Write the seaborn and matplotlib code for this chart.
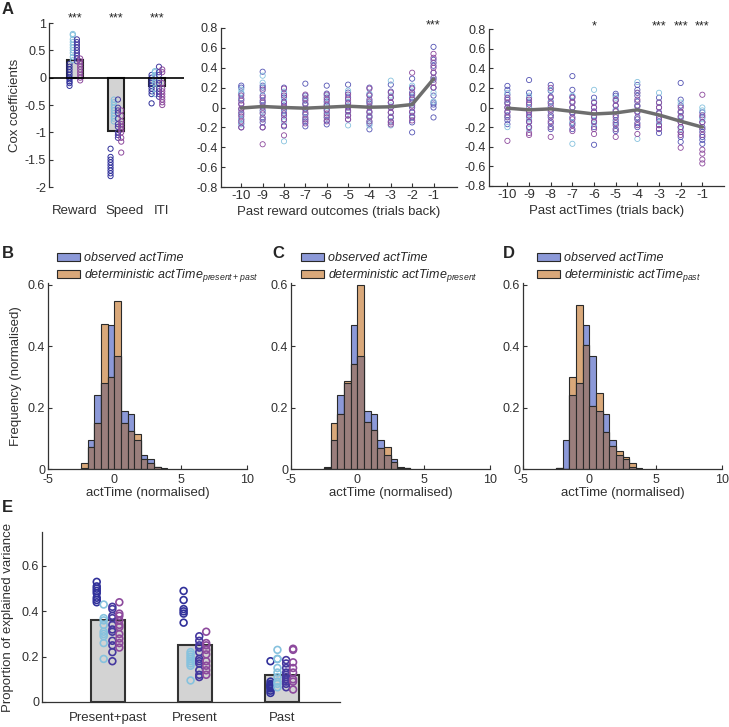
import numpy as np
import matplotlib
matplotlib.use('Agg')
import matplotlib.pyplot as plt
import seaborn as sns
from matplotlib.patches import Patch
from matplotlib.ticker import FuncFormatter

# ==============================
# data
# ==============================
# --- A (left): Cox coefficients ---
a1_labels = ['Reward', 'Speed', 'ITI']
a1_means = [0.32, -0.97, -0.15]
a1_navy = [[0.25, 0.2, 0.15, 0.1, 0.05, 0.0, -0.03, -0.07, -0.1, -0.15],
           [-1.3, -1.45, -1.5, -1.55, -1.6, -1.65, -1.7, -1.75, -1.8],
           [0.05, 0.0, -0.05, -0.1, -0.15, -0.2, -0.25, -0.3, -0.47]]
a1_light = [[0.8, 0.78, 0.7, 0.65, 0.6, 0.55, 0.5, 0.45, 0.38, 0.32],
            [-0.4, -0.45, -0.5, -0.55, -0.6, -0.65, -0.7, -0.75, -0.8],
            [0.12, 0.1, 0.05, 0.0, -0.05, -0.1, -0.2, -0.3]]
a1_indigo = [[0.7, 0.65, 0.6, 0.55, 0.5, 0.45, 0.4, 0.35, 0.3],
             [-0.4, -0.55, -0.6, -0.65, -0.75, -0.85, -0.9, -1.0, -1.05, -1.1],
             [0.2, 0.1, 0.05, -0.05, -0.1, -0.2, -0.25, -0.3, -0.35]]
a1_purple = [[0.35, 0.3, 0.25, 0.2, 0.15, 0.1, 0.05, 0.0, -0.05],
             [-0.6, -0.7, -0.8, -0.85, -0.9, -0.95, -1.0, -1.1, -1.17, -1.37],
             [0.15, 0.1, -0.1, -0.2, -0.25, -0.3, -0.35, -0.4, -0.45, -0.5]]
a1_stars = ['***', '***', '***']
a1_label_pos = [0.0, 1.2, 2.12]   # where the category names sit

# --- A (middle/right): lagged coefficients ---
lags = [-10, -9, -8, -7, -6, -5, -4, -3, -2, -1]
a2_mean = [-0.005, 0.01, 0.0, -0.007, 0.003, 0.013, 0.003, 0.007, 0.03, 0.287]
a2_blue = [[0.22, 0.2, 0.14, 0.09, 0.04, -0.02, -0.07, -0.12, -0.16, -0.2],
           [0.36, 0.22, 0.2, 0.12, 0.07, 0.02, -0.03, -0.1, -0.15, -0.2],
           [0.2, 0.14, 0.1, 0.06, 0.02, -0.03, -0.08, -0.12, -0.19],
           [0.24, 0.12, 0.07, 0.03, -0.01, -0.05, -0.1, -0.14, -0.19],
           [0.22, 0.14, 0.1, 0.06, 0.02, -0.03, -0.08, -0.13, -0.17],
           [0.23, 0.15, 0.1, 0.05, 0.01, -0.03, -0.08, -0.12],
           [0.2, 0.13, 0.08, 0.04, 0.0, -0.05, -0.1, -0.16, -0.22],
           [0.23, 0.16, 0.1, 0.05, 0.0, -0.05, -0.1, -0.14],
           [0.29, 0.2, 0.15, 0.1, 0.05, 0.0, -0.05, -0.1, -0.15, -0.25],
           [0.61, 0.48, 0.42, 0.35, 0.28, 0.2, 0.12, 0.05, 0.03, 0.0, -0.1]]
a2_light = [[0.18, 0.15, 0.08, -0.06, -0.12, -0.17],
            [0.32, 0.25, 0.17, 0.05, -0.05, -0.12],
            [0.16, 0.08, -0.05, -0.14, -0.34],
            [0.1, 0.04, -0.06, -0.12],
            [0.12, 0.05, -0.04, -0.1],
            [0.17, 0.06, -0.05, -0.18],
            [0.14, 0.05, -0.08, -0.14, -0.18],
            [0.27, 0.12, 0.02, -0.09, -0.18],
            [0.22, 0.12, 0.03, -0.08],
            [0.45, 0.3, 0.15, 0.06]]
a2_purple = [[0.12, 0.07, 0.03, -0.01, -0.05, -0.09, -0.14, -0.2],
             [0.18, 0.1, 0.05, 0.0, -0.06, -0.12, -0.2, -0.37],
             [0.19, 0.12, 0.05, 0.0, -0.06, -0.12, -0.18, -0.28],
             [0.13, 0.09, 0.04, -0.02, -0.07, -0.12, -0.16],
             [0.13, 0.08, 0.03, -0.02, -0.06, -0.1, -0.14],
             [0.13, 0.08, 0.04, 0.0, -0.04, -0.08, -0.12],
             [0.19, 0.12, 0.06, 0.01, -0.04, -0.09, -0.14],
             [0.15, 0.1, 0.05, 0.0, -0.05, -0.1, -0.15, -0.17],
             [0.35, 0.19, 0.13, 0.08, 0.02, -0.04, -0.09, -0.13],
             [0.54, 0.5, 0.45, 0.4, 0.35, 0.3, 0.25, 0.2]]
a2_stars = {-1: '***'}

a3_mean = [-0.007, -0.024, -0.014, -0.04, -0.066, -0.055, -0.024, -0.076, -0.14, -0.2]
a3_blue = [[0.22, 0.18, 0.13, 0.08, 0.04, 0.0, -0.04, -0.08, -0.13, -0.17],
           [0.28, 0.15, 0.1, 0.05, 0.0, -0.05, -0.1, -0.15, -0.2],
           [0.23, 0.17, 0.11, 0.06, 0.01, -0.04, -0.1, -0.16, -0.22],
           [0.32, 0.18, 0.11, 0.06, 0.0, -0.05, -0.1, -0.16, -0.22],
           [0.1, 0.05, 0.0, -0.04, -0.09, -0.14, -0.2, -0.38],
           [0.14, 0.12, 0.07, 0.02, -0.03, -0.08, -0.13, -0.18, -0.24],
           [0.23, 0.18, 0.12, 0.06, 0.01, -0.04, -0.1, -0.16, -0.2],
           [0.1, 0.05, 0.0, -0.05, -0.1, -0.14, -0.18, -0.22, -0.26],
           [0.25, 0.08, 0.02, -0.04, -0.09, -0.15, -0.2, -0.25, -0.3, -0.35],
           [-0.05, -0.1, -0.15, -0.2, -0.25, -0.3, -0.33, -0.37]]
a3_light = [[0.15, 0.05, -0.1, -0.2],
            [0.12, 0.0, -0.12, -0.22],
            [0.18, 0.05, -0.08, -0.2],
            [0.12, 0.0, -0.15, -0.37],
            [0.18, 0.06, -0.08, -0.17],
            [0.1, -0.02, -0.15, -0.22],
            [0.26, 0.15, 0.02, -0.12, -0.32],
            [0.15, 0.05, -0.06, -0.15],
            [0.05, -0.05, -0.12, -0.22],
            [0.0, -0.03, -0.12, -0.22]]
a3_purple = [[0.1, 0.05, 0.0, -0.05, -0.1, -0.34],
             [0.08, 0.03, -0.03, -0.08, -0.14, -0.2, -0.26, -0.28],
             [0.2, 0.1, 0.04, -0.02, -0.08, -0.14, -0.2, -0.3],
             [0.1, 0.05, 0.0, -0.06, -0.12, -0.18, -0.24],
             [0.05, 0.0, -0.05, -0.1, -0.15, -0.22, -0.27],
             [0.08, 0.02, -0.04, -0.1, -0.16, -0.22, -0.3],
             [0.15, 0.08, 0.02, -0.05, -0.12, -0.18, -0.27],
             [0.05, 0.0, -0.06, -0.12, -0.18, -0.22],
             [0.0, -0.05, -0.1, -0.15, -0.2, -0.25, -0.28, -0.41],
             [0.13, -0.08, -0.15, -0.22, -0.28, -0.43, -0.47, -0.53, -0.57]]
a3_stars = {-6: '*', -3: '***', -2: '***', -1: '***'}

# --- B/C/D: histograms (bin heights, bin width 0.5 from -2.5) ---
bin_edges = [-2.5, -2.0, -1.5, -1.0, -0.5, 0.0, 0.5, 1.0, 1.5, 2.0, 2.5, 3.0, 3.5, 4.0]
observed = [0.003, 0.095, 0.24, 0.28, 0.468, 0.366, 0.19, 0.18, 0.095, 0.045, 0.033, 0.005, 0.002]
det_present_past = [0.018, 0.07, 0.148, 0.471, 0.30, 0.547, 0.148, 0.122, 0.115, 0.032, 0.02, 0.008, 0.0]
det_present = [0.005, 0.15, 0.18, 0.285, 0.34, 0.60, 0.154, 0.126, 0.069, 0.07, 0.022, 0.003, 0.002]
det_past = [0.004, 0.0, 0.298, 0.535, 0.403, 0.204, 0.247, 0.12, 0.075, 0.057, 0.038, 0.019, 0.0]

# --- E: explained variance ---
e_labels = ['Present+past', 'Present', 'Past']
e_means = [0.36, 0.25, 0.12]
e_navy = [[0.53, 0.51, 0.50, 0.49, 0.48, 0.46, 0.45, 0.44],
          [0.49, 0.45, 0.41, 0.40, 0.39, 0.35],
          [0.18, 0.09, 0.08, 0.075, 0.07, 0.065, 0.06, 0.05, 0.04]]
e_light = [[0.43, 0.37, 0.36, 0.34, 0.31, 0.30, 0.29, 0.26, 0.19],
           [0.22, 0.21, 0.20, 0.19, 0.18, 0.17, 0.16, 0.095],
           [0.23, 0.19, 0.19, 0.15, 0.13, 0.11, 0.09, 0.08, 0.065]]
e_indigo = [[0.42, 0.41, 0.38, 0.37, 0.34, 0.32, 0.31, 0.27, 0.25, 0.22, 0.18],
            [0.29, 0.27, 0.25, 0.24, 0.22, 0.19, 0.18, 0.17, 0.14, 0.12, 0.11],
            [0.185, 0.17, 0.15, 0.13, 0.12, 0.11, 0.10, 0.09, 0.08, 0.065]]
e_purple = [[0.44, 0.39, 0.38, 0.36, 0.34, 0.33, 0.30, 0.28, 0.26, 0.24],
            [0.31, 0.26, 0.25, 0.23, 0.21, 0.18, 0.16, 0.14, 0.12],
            [0.235, 0.23, 0.175, 0.15, 0.13, 0.10, 0.09, 0.055]]

# ==============================
# style
# ==============================
sns.set_theme(style='ticks')
plt.rcParams['font.family'] = ['Liberation Sans', 'DejaVu Sans']
plt.rcParams['axes.unicode_minus'] = False
plt.rcParams['mathtext.fontset'] = 'custom'
plt.rcParams['mathtext.rm'] = 'Liberation Sans'
plt.rcParams['mathtext.it'] = 'Liberation Sans:italic'
plt.rcParams['font.size'] = 9

SPINE = '#333333'
TXT = '#303030'
NAVY, LIGHT, INDIGO, PURPLE = '#30309a', '#86c2de', '#45389f', '#8d4a9d'
BLUE3 = '#5454b4'
BAR_GREY = '#d3d3d3'
OBS_C, DET_C, OVL_C = '#8c99d8', '#d9a87a', '#9a7e7c'
GROUP_OFF = [-0.13, -0.05, 0.05, 0.13]

fig = plt.figure(figsize=(7.29, 7.27), dpi=100)
W, H = 729, 727


def add_ax(x0, y0, x1, y1):
    # pixel box -> figure fraction
    return fig.add_axes([x0 / W, 1 - y1 / H, (x1 - x0) / W, (y1 - y0) / H])


def style(ax):
    sns.despine(ax=ax)
    for s in ['left', 'bottom']:
        ax.spines[s].set_color(SPINE)
        ax.spines[s].set_linewidth(0.9)
    ax.tick_params(direction='in', length=3, width=0.8, color=SPINE,
                   labelcolor=TXT, labelsize=9, pad=2)


def open_points(ax, x, y, color, s, lw):
    sns.scatterplot(x=x, y=y, ax=ax, s=s, color=color, linewidth=lw, legend=False, zorder=3)
    pc = ax.collections[-1]
    pc.set_facecolor('none')
    pc.set_edgecolor(color)


def nice(v, p):
    v = round(v, 3)
    return '0' if v == 0 else f'{v:g}'


fmt = FuncFormatter(nice)

# ==============================
# A1
# ==============================
ax = add_ax(49, 23, 184, 187)
pos = np.arange(len(a1_labels))
sns.barplot(x=pos, y=a1_means, native_scale=True, width=0.4, color=BAR_GREY,
            edgecolor='#222222', linewidth=1.5, errorbar=None, ax=ax, zorder=2)
for g, (vals, c) in enumerate(zip([a1_navy, a1_light, a1_indigo, a1_purple],
                                   [NAVY, LIGHT, INDIGO, PURPLE])):
    for i, v in enumerate(vals):
        open_points(ax, [i + GROUP_OFF[g]] * len(v), v, c, 14, 0.7)
ax.axhline(0, color='black', lw=1.2, zorder=4)
style(ax)
ax.spines['bottom'].set_visible(False)
ax.set_xlim(-0.63, 2.66)
ax.set_ylim(-2, 1)
ax.set_yticks([-2, -1.5, -1, -0.5, 0, 0.5, 1])
ax.yaxis.set_major_formatter(fmt)
ax.set_xticks(a1_label_pos, a1_labels)
ax.tick_params(axis='x', length=0, pad=13, labelsize=9.5)
ax.set_ylabel('Cox coefficients', fontsize=9.5, color=TXT, labelpad=3)
ax.set_xlabel('')
for i, st in enumerate(a1_stars):
    ax.text(i, 1.025, st, transform=ax.get_xaxis_transform(), ha='center', va='center', fontsize=9)


# ==============================
# A2 / A3
# ==============================
def lag_panel(box, blue, light, purple, mean, stars, xlabel, xlim):
    ax = add_ax(*box)
    for vals, c in zip([blue, light, purple], [BLUE3, LIGHT, PURPLE]):
        for lag, v in zip(lags, vals):
            open_points(ax, [lag] * len(v), v, c, 14, 0.6)
    sns.lineplot(x=lags, y=mean, ax=ax, color='#6e6e6e', linewidth=2.5, zorder=5)
    style(ax)
    ax.set_xlim(*xlim)
    ax.set_ylim(-0.8, 0.8)
    ax.set_yticks(np.round(np.arange(-0.8, 0.81, 0.2), 1))
    ax.yaxis.set_major_formatter(fmt)
    ax.set_xticks(lags)
    ax.tick_params(axis='x', labelsize=9.5)
    ax.set_xlabel(xlabel, fontsize=9.5, color=TXT, labelpad=3)
    for lag, st in stars.items():
        ax.text(lag, 1.015, st, transform=ax.get_xaxis_transform(), ha='center', va='center', fontsize=9)
    return ax


lag_panel((221, 28, 457, 187), a2_blue, a2_light, a2_purple, a2_mean, a2_stars,
          'Past reward outcomes (trials back)', (-10.95, 0.1))
lag_panel((489, 29, 724, 186), a3_blue, a3_light, a3_purple, a3_mean, a3_stars,
          'Past actTimes (trials back)', (-10.85, 0.0))

# ==============================
# B / C / D histograms
# ==============================
centers = np.array(bin_edges[:-1]) + 0.25


def hist_panel(box, det, sub, leg_xy, ylabel=False):
    ax = add_ax(*box)
    overlap = np.minimum(observed, det)
    for h, c in [(observed, OBS_C), (det, DET_C), (overlap, OVL_C)]:
        sns.histplot(x=centers, weights=h, bins=bin_edges, ax=ax, color=c, alpha=1,
                     edgecolor='#2a2a2a', linewidth=0.8)
    style(ax)
    ax.set_xlim(-5, 10)
    ax.set_ylim(0, 0.605)
    ax.set_xticks([-5, 0, 5, 10])
    ax.set_yticks([0, 0.2, 0.4, 0.6])
    ax.yaxis.set_major_formatter(fmt)
    ax.tick_params(axis='x', pad=3.5)
    ax.set_xlabel('actTime (normalised)', fontsize=9.5, color=TXT, labelpad=1)
    ax.set_ylabel('Frequency (normalised)' if ylabel else '', fontsize=9.5, color=TXT)
    handles = [Patch(facecolor=OBS_C, edgecolor='#2a2a2a', lw=0.8),
               Patch(facecolor=DET_C, edgecolor='#2a2a2a', lw=0.8)]
    labels = ['observed actTime', 'deterministic actTime$_{' + sub + '}$']
    ax.legend(handles, labels, loc='upper left', bbox_to_anchor=(leg_xy[0] / W, 1 - leg_xy[1] / H),
              bbox_transform=fig.transFigure, frameon=False,
              prop={'style': 'italic', 'size': 9}, handlelength=1.8, handleheight=0.6,
              labelspacing=0.25, borderpad=0, borderaxespad=0, handletextpad=0.4)
    return ax


hist_panel((48, 283, 247, 469), det_present_past, 'present+past', (57, 252), ylabel=True)
hist_panel((291, 283, 490, 469), det_present, 'present', (301, 252))
hist_panel((523, 283, 722, 469), det_past, 'past', (537, 252))

# ==============================
# E
# ==============================
ax = add_ax(42, 532, 340, 702)
pos = np.arange(len(e_labels))
sns.barplot(x=pos, y=e_means, native_scale=True, width=0.39, color=BAR_GREY,
            edgecolor='#333333', linewidth=1.5, errorbar=None, ax=ax, zorder=2)
for g, (vals, c) in enumerate(zip([e_navy, e_light, e_indigo, e_purple],
                                   [NAVY, LIGHT, INDIGO, PURPLE])):
    for i, v in enumerate(vals):
        open_points(ax, [i + GROUP_OFF[g]] * len(v), v, c, 24, 1.2)
style(ax)
ax.set_xlim(-0.76, 2.67)
ax.set_ylim(0, 0.75)
ax.set_yticks([0, 0.2, 0.4, 0.6])
ax.yaxis.set_major_formatter(fmt)
ax.set_xticks(pos, e_labels)
ax.tick_params(axis='x', length=0, pad=7, labelsize=9.5)
ax.set_ylabel('Proportion of explained variance', fontsize=9.5, color=TXT, labelpad=6)
ax.set_xlabel('')

# panel letters
for lab, x, y in [('A', 2, 10), ('B', 2, 253), ('C', 272, 253), ('D', 503, 253), ('E', 2, 507)]:
    fig.text(x / W, 1 - y / H, lab, fontsize=12, fontweight='bold', va='center', ha='left')

fig.savefig('out.png', dpi=100)
